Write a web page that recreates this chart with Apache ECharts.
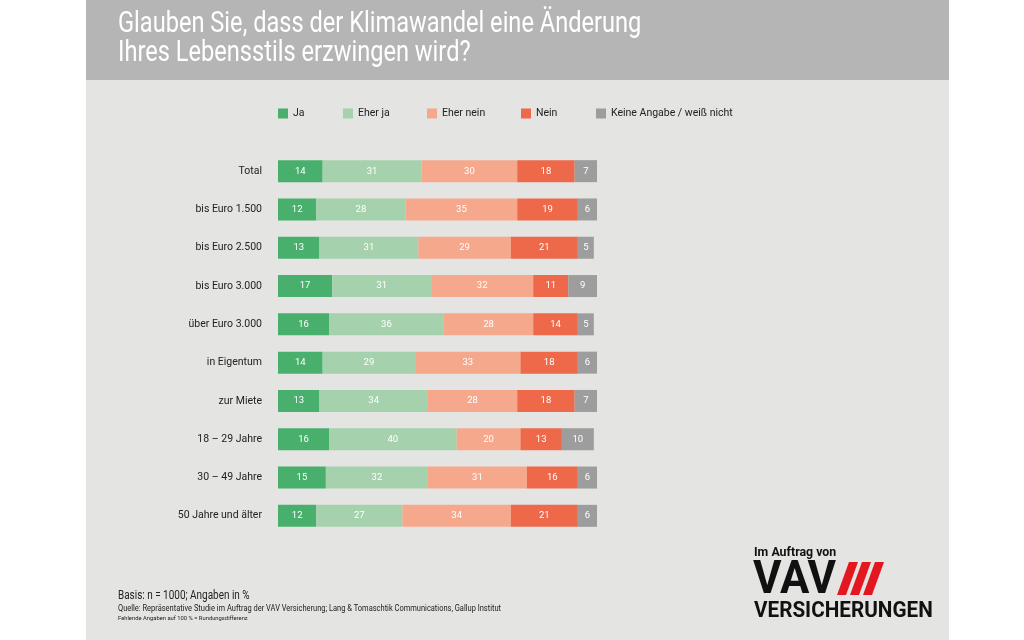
<!DOCTYPE html>
<html><head><meta charset="utf-8">
<script src="https://cdn.jsdelivr.net/npm/echarts@6/dist/echarts.min.js"></script>
<style>html,body{margin:0;padding:0;background:#fff}#c{width:1024px;height:640px}</style>
</head><body><div id="c"></div>
<script>
const categories = ["Total","bis Euro 1.500","bis Euro 2.500","bis Euro 3.000","über Euro 3.000","in Eigentum","zur Miete","18 – 29 Jahre","30 – 49 Jahre","50 Jahre und älter"];
const seriesNames = ["Ja","Eher ja","Eher nein","Nein","Keine Angabe / weiß nicht"];
const ja       = [14,12,13,17,16,14,13,16,15,12];
const eherJa   = [31,28,31,31,36,29,34,40,32,27];
const eherNein = [30,35,29,32,28,33,28,20,31,34];
const nein     = [18,19,21,11,14,18,18,13,16,21];
const keine    = [7,6,5,9,5,6,7,10,6,6];
const values = [ja, eherJa, eherNein, nein, keine];
const colors = ["#48b06c","#a5d2ac","#f6a88c","#ee694a","#9d9d9d"];
const legendLeft = [278, 343, 427, 521, 596];

const FONT = "Roboto, sans-serif";

const chart = echarts.init(document.getElementById('c'), null, {renderer:'canvas'});
function txt(x, y, s, font, fill, sx, extra) {
  return Object.assign({type:'text', x:x, y:y, scaleX:sx, style:{text:s, fill:fill, font:font}}, extra||{});
}
const option = {
  backgroundColor: '#ffffff',
  animation: false,
  textStyle: {fontFamily: FONT},
  graphic: [
    {type:'rect', z:-10, shape:{x:86,y:0,width:863,height:640}, style:{fill:'#e4e4e2'}},
    {type:'rect', z:-9, shape:{x:86,y:0,width:863,height:80}, style:{fill:'#b5b5b5'}},
    {type:'text', x:118, y:10, scaleX:0.787, style:{text:'Glauben Sie, dass der Klimawandel eine Änderung\nIhres Lebensstils erzwingen wird?', fill:'#ffffff', font:'30px '+FONT, lineHeight:29}},
    txt(118, 590, 'Basis: n = 1000; Angaben in %', '12px '+FONT, '#222', 0.83),
    txt(118, 604, 'Quelle: Repräsentative Studie im Auftrag der VAV Versicherung; Lang & Tomaschtik Communications, Gallup Institut', '8.5px '+FONT, '#222', 0.88),
    txt(118, 615, 'Fehlende Angaben auf 100 % = Rundungsdifferenz', '6px '+FONT, '#222', 0.97),
    txt(754, 546, 'Im Auftrag von', 'bold 13px '+FONT, '#111', 0.95),
    txt(753, 558, 'VAV', 'bold 47px '+FONT, '#111', 0.93),
    {type:'polygon', shape:{points:[[849,562],[858,562],[846,595],[837,595]]}, style:{fill:'#e3171f'}},
    {type:'polygon', shape:{points:[[862,562],[871,562],[859,595],[850,595]]}, style:{fill:'#e3171f'}},
    {type:'polygon', shape:{points:[[875,562],[884,562],[872,595],[863,595]]}, style:{fill:'#e3171f'}},
    txt(754, 600, 'VERSICHERUNGEN', 'bold 22px '+FONT, '#111', 0.94)
  ],
  legend: seriesNames.map((n,i)=>({
    data:[n], left:legendLeft[i], top:108, padding:0, itemWidth:10, itemHeight:10, itemGap:0,
    icon:'rect', textStyle:{fontSize:10.5, color:'#222', fontFamily:FONT}
  })),
  grid: {left:278, top:152, width:319, height:383, containLabel:false},
  xAxis: {type:'value', min:0, max:100, show:false},
  yAxis: {type:'category', data:categories, inverse:true,
    axisLine:{show:false}, axisTick:{show:false}, splitLine:{show:false},
    axisLabel:{margin:16, fontSize:10.5, color:'#222', fontFamily:FONT}},
  series: seriesNames.map((n,i)=>({
    name:n, type:'bar', stack:'all', data:values[i], barWidth:22,
    itemStyle:{color:colors[i]},
    label:{show:true, position:'inside', color:'#ffffff', fontSize:9.5, fontFamily:FONT}
  }))
};
chart.setOption(option);
</script></body></html>
